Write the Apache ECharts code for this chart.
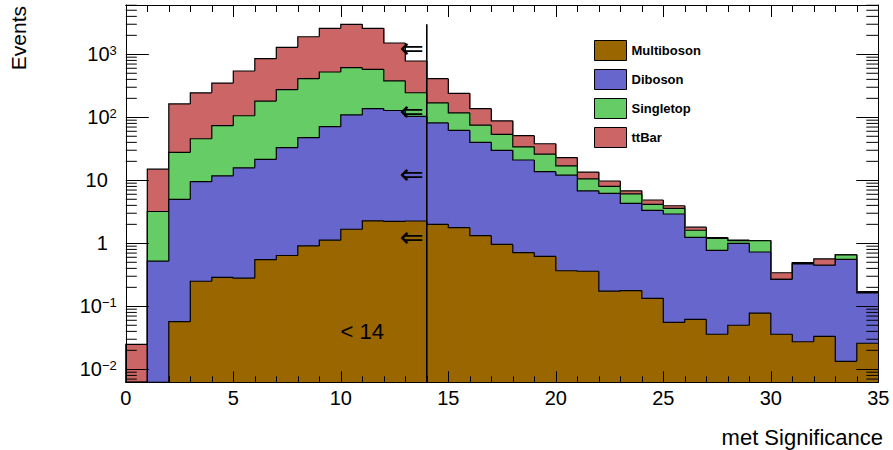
<!DOCTYPE html>
<html>
<head>
<meta charset="utf-8">
<script src="https://cdn.jsdelivr.net/npm/echarts@6/dist/echarts.min.js"></script>
<style>
html,body{margin:0;padding:0;background:#fff;}
#c{width:893px;height:450px;}
</style>
</head>
<body>
<div id="c"></div>
<script>
// ---- data (bins of width 1 on "met Significance") ----
const binLow = [0,1,2,3,4,5,6,7,8,9,10,11,12,13,14,15,16,17,18,19,20,21,22,23,24,25,26,27,28,29,30,31,32,33,34];
const binHigh = [1,2,3,4,5,6,7,8,9,10,11,12,13,14,15,16,17,18,19,20,21,22,23,24,25,26,27,28,29,30,31,32,33,34,35];
const multiboson = [0,0,0.057,0.25,0.287,0.28,0.55,0.64,0.91,1.12,1.67,2.27,2.23,2.26,2.0,1.77,1.32,0.96,0.71,0.62,0.367,0.36,0.174,0.178,0.134,0.0557,0.0622,0.036,0.05,0.078,0.036,0.0274,0.0334,0.0134,0.0259];
const diboson = [0,0.52,4.94,9.25,11.5,15.5,20.9,32.4,46.5,69.9,107.3,134.7,126,101,79.5,60.2,38.7,29,20.3,13.1,11.7,6.44,6.03,4.12,3.2,2.86,1.18,0.738,0.95,0.65,0.232,0.443,0.415,0.544,0.137];
const singletop = [0,2.68,22.8,36.2,61.8,90,159.5,241,363,453,505,441,251,142,88.5,56,35,23.7,13,12.3,4.9,3.7,1.8,1.77,0.82,0.68,0.37,0.42,0.1,0.37,0,0.01,0,0.1,0.004];
const ttbar = [0.0249,11.8,135,199,276,437,670,1017,1490,2064,2381,2010,1132,538,240,122,62,34.3,17,12,6,3.0,1.75,0.73,0.71,0.35,0.19,0.04,0.02,0.005,0.073,0.012,0.119,0,0.004];
const seriesNames = ['Multiboson','Diboson','Singletop','ttBar'];
const seriesColors = ['#996600','#6666cc','#66cc66','#cc6666'];
const xTickLabels = [0,5,10,15,20,25,30,35];
const cutValue = [14];
const cutLineTop = [3000];
const arrowX = [13.3,13.3,13.3,13.3];
const arrowY = [1259,126,12.6,1.26];
const cutLabelPos = [11, 0.04];

const Y_MIN = 0.00622, Y_MAX = 6060;

// ---- build stacked layers ----
const layerValues = [multiboson, diboson, singletop, ttbar];
let running = binLow.map(() => 0);
const series = [];

function makeRender(color) {
  return function (params, api) {
    const cs = params.coordSys;
    const bottom = cs.y + cs.height, top = cs.y;
    const right = cs.x + cs.width;
    const yOf = v => {
      if (!(v > 0)) return bottom;
      const p = api.coord([1, v])[1];
      return Math.max(top, Math.min(bottom, p));
    };
    const x0 = api.coord([api.value(0), 1])[0];
    const x1 = api.coord([api.value(1), 1])[0];
    const yT = yOf(api.value(2));
    const yP = yOf(api.value(3));
    const w = Math.min(x1 + 0.7, right) - x0;
    return {
      type: 'group',
      children: [
        { type: 'rect', shape: { x: x0, y: yT, width: w, height: bottom - yT }, style: { fill: color }, z2: 0 },
        { type: 'polyline', shape: { points: [[x0, yP], [x0, yT], [x1, yT]] }, style: { stroke: '#000', lineWidth: 1.2, fill: null }, z2: 1 }
      ]
    };
  };
}

layerValues.forEach((vals, k) => {
  running = running.map((r, i) => r + vals[i]);
  const cum = running.slice();
  const data = binLow.map((x0, i) => [x0, binHigh[i], cum[i], i > 0 ? cum[i - 1] : 0]);
  series.push({
    type: 'custom',
    name: seriesNames[k],
    z: 10 - k,
    silent: true,
    itemStyle: { color: seriesColors[k] },
    encode: { x: [0, 1], y: [2] },
    renderItem: makeRender(seriesColors[k]),
    data: data
  });
});

// minor log ticks (2..9 x 10^k) on left and right frame
const minorTickValues = [];
for (let e = -3; e <= 3; e++) {
  for (let m = 2; m <= 9; m++) {
    const v = m * Math.pow(10, e);
    if (v > Y_MIN && v < Y_MAX) minorTickValues.push(v);
  }
}
series.push({
  type: 'custom',
  name: 'minorTicks',
  z: 20,
  silent: true,
  encode: { y: 0 },
  renderItem: function (params, api) {
    const cs = params.coordSys;
    const y = api.coord([1, api.value(0)])[1];
    return {
      type: 'group',
      children: [
        { type: 'line', shape: { x1: cs.x, y1: y, x2: cs.x + 11, y2: y }, style: { stroke: '#000', lineWidth: 1 } },
        { type: 'line', shape: { x1: cs.x + cs.width - 12, y1: y, x2: cs.x + cs.width, y2: y }, style: { stroke: '#000', lineWidth: 1 } }
      ]
    };
  },
  data: minorTickValues.map(v => [v])
});

// cut line at 14
series.push({
  type: 'line',
  name: 'cut',
  z: 15,
  silent: true,
  symbol: 'none',
  lineStyle: { color: '#000', width: 1.6 },
  data: [[cutValue[0], Y_MIN], [cutValue[0], cutLineTop[0]]]
});

// annotations drawn as custom text at data positions
function textRender(txt, font) {
  return function (params, api) {
    const p = api.coord([api.value(0), api.value(1)]);
    return {
      type: 'text', x: p[0], y: p[1],
      style: { text: txt, font: font, fill: '#000', align: 'center', textAlign: 'center', verticalAlign: 'middle', textVerticalAlign: 'middle' }
    };
  };
}
series.push({
  type: 'custom',
  name: 'arrows',
  z: 16,
  silent: true,
  encode: { x: 0, y: 1 },
  renderItem: textRender('\u21D0', '29px "DejaVu Sans"'),
  data: arrowX.map((x, i) => [x, arrowY[i]])
});
series.push({
  type: 'custom',
  name: 'cutText',
  z: 16,
  silent: true,
  encode: { x: 0, y: 1 },
  renderItem: textRender('< 14', '22px "Liberation Sans"'),
  data: [cutLabelPos]
});

const FONT = 'Liberation Sans';
const grid = { left: 125.8, top: 5, width: 752.5, height: 377.3 };

function yLabel(v) {
  const e = Math.log10(v);
  const r = Math.round(e);
  if (Math.abs(e - r) > 1e-6) return '';
  if (r === 0) return '{n|1}{p|}';
  if (r === 1) return '{n|10}{p|}';
  return '{n|10}{s|' + (r < 0 ? '\u2212' + (-r) : String(r)) + '}';
}

const chart = echarts.init(document.getElementById('c'), null, { renderer: 'svg' });
chart.setOption({
  animation: false,
  backgroundColor: '#fff',
  grid: grid,
  legend: {
    data: seriesNames,
    orient: 'vertical',
    left: 594,
    top: 40,
    padding: 0,
    itemWidth: 32,
    itemHeight: 20,
    itemGap: 8,
    icon: 'rect',
    selectedMode: false,
    itemStyle: { borderColor: '#000', borderWidth: 1 },
    textStyle: { fontFamily: FONT, fontSize: 13, fontWeight: 'bold', color: '#000' }
  },
  xAxis: [{
    type: 'value', min: 0, max: 35, interval: 5, position: 'bottom', z: 20,
    axisLine: { show: true, onZero: false, lineStyle: { color: '#000', width: 1 } },
    axisTick: { show: true, inside: true, length: 11, lineStyle: { color: '#000' } },
    minorTick: { show: true, splitNumber: 5, length: 6, lineStyle: { color: '#000' } },
    splitLine: { show: false },
    minorSplitLine: { show: false },
    axisLabel: {
      show: true, margin: 6, color: '#000', fontFamily: FONT, fontSize: 20,
      formatter: v => (xTickLabels.indexOf(v) >= 0 ? String(v) : '')
    }
  }, {
    type: 'value', min: 0, max: 35, interval: 5, position: 'top', z: 20,
    axisLine: { show: true, onZero: false, lineStyle: { color: '#000', width: 1 } },
    axisTick: { show: true, inside: true, length: 12, lineStyle: { color: '#000' } },
    minorTick: { show: true, splitNumber: 5, length: 7, lineStyle: { color: '#000' } },
    splitLine: { show: false },
    axisLabel: { show: false }
  }],
  yAxis: [{
    type: 'log', logBase: 10, min: Y_MIN, max: Y_MAX, position: 'left', z: 20,
    axisLine: { show: true, onZero: false, lineStyle: { color: '#000', width: 1 } },
    axisTick: { show: true, inside: true, length: 23, lineStyle: { color: '#000' } },
    splitLine: { show: false },
    axisLabel: {
      show: true, margin: 9, color: '#000', fontFamily: FONT, fontSize: 20,
      formatter: yLabel,
      rich: {
        n: { fontFamily: FONT, fontSize: 20, color: '#000' },
        s: { fontFamily: FONT, fontSize: 13, color: '#000', verticalAlign: 'top' },
        p: { width: 9 }
      }
    }
  }, {
    type: 'log', logBase: 10, min: Y_MIN, max: Y_MAX, position: 'right', z: 20,
    axisLine: { show: true, onZero: false, lineStyle: { color: '#000', width: 1 } },
    axisTick: { show: true, inside: true, length: 22, lineStyle: { color: '#000' } },
    splitLine: { show: false },
    axisLabel: { show: false }
  }],
  graphic: [
    { type: 'text', x: 18.7, y: 6, rotation: Math.PI / 2, z: 50,
      style: { text: 'Events', font: '21px "Liberation Sans"', fill: '#000', align: 'right', textAlign: 'right', verticalAlign: 'middle', textVerticalAlign: 'middle' } },
    { type: 'text', x: 883, y: 437.4, z: 50,
      style: { text: 'met Significance', font: '22px "Liberation Sans"', fill: '#000', align: 'right', textAlign: 'right', verticalAlign: 'middle', textVerticalAlign: 'middle' } }
  ],
  series: series
});
</script>
</body>
</html>
